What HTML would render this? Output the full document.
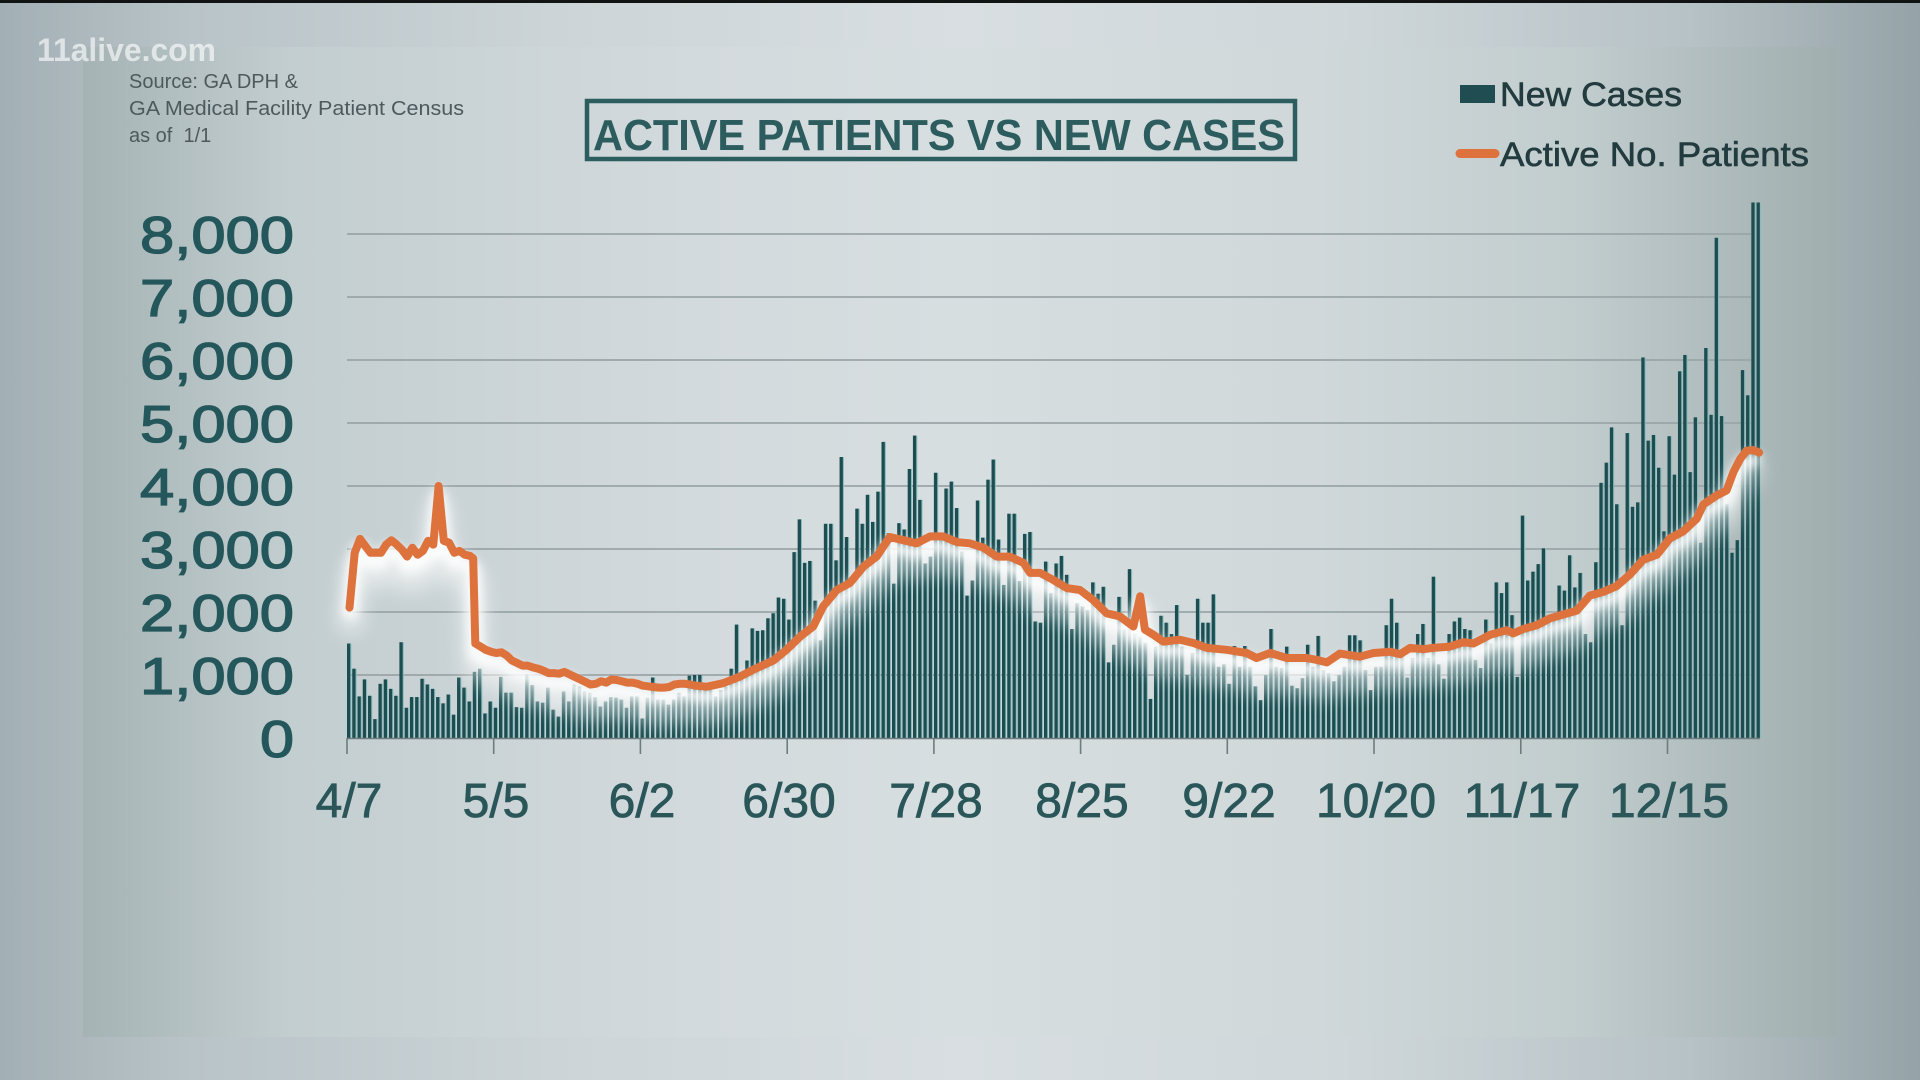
<!DOCTYPE html>
<html><head><meta charset="utf-8"><style>
html,body{margin:0;padding:0;background:#c8d0d3;}
svg{display:block}
text{font-family:"Liberation Sans",Arial,sans-serif}
</style></head><body>
<svg width="1920" height="1080" viewBox="0 0 1920 1080" xmlns="http://www.w3.org/2000/svg">
<defs>
<linearGradient id="bgo" x1="0" y1="0" x2="1" y2="0">
<stop offset="0" stop-color="#a2afb4"/><stop offset="0.1" stop-color="#b9c4c8"/><stop offset="0.3" stop-color="#cdd5d8"/><stop offset="0.5" stop-color="#d8dee1"/><stop offset="0.7" stop-color="#cfd7da"/><stop offset="0.88" stop-color="#b7c2c6"/><stop offset="1" stop-color="#95a3a8"/>
</linearGradient>
<linearGradient id="bgp" x1="0" y1="0" x2="1" y2="0">
<stop offset="0" stop-color="#a5b3b4"/><stop offset="0.12" stop-color="#c3ced0"/><stop offset="0.35" stop-color="#d3dadd"/><stop offset="0.5" stop-color="#d7dee0"/><stop offset="0.7" stop-color="#d0d8da"/><stop offset="0.85" stop-color="#c2cdce"/><stop offset="1" stop-color="#a0aeae"/>
</linearGradient>
<filter id="gb" filterUnits="userSpaceOnUse" x="250" y="100" width="1600" height="750"><feGaussianBlur stdDeviation="5"/></filter>
<filter id="gb2" filterUnits="userSpaceOnUse" x="250" y="100" width="1600" height="750"><feGaussianBlur stdDeviation="9"/></filter>
<g id="bars">
<rect x="0" width="0.63" height="1500"/><rect x="1" width="0.63" height="1100"/><rect x="2" width="0.63" height="660"/><rect x="3" width="0.63" height="930"/><rect x="4" width="0.63" height="670"/><rect x="5" width="0.63" height="300"/><rect x="6" width="0.63" height="860"/><rect x="7" width="0.63" height="930"/><rect x="8" width="0.63" height="780"/><rect x="9" width="0.63" height="670"/>
<rect x="10" width="0.63" height="1520"/><rect x="11" width="0.63" height="480"/><rect x="12" width="0.63" height="650"/><rect x="13" width="0.63" height="650"/><rect x="14" width="0.63" height="940"/><rect x="15" width="0.63" height="850"/><rect x="16" width="0.63" height="780"/><rect x="17" width="0.63" height="650"/><rect x="18" width="0.63" height="550"/><rect x="19" width="0.63" height="690"/>
<rect x="20" width="0.63" height="370"/><rect x="21" width="0.63" height="960"/><rect x="22" width="0.63" height="800"/><rect x="23" width="0.63" height="580"/><rect x="24" width="0.63" height="1050"/><rect x="25" width="0.63" height="1100"/><rect x="26" width="0.63" height="390"/><rect x="27" width="0.63" height="580"/><rect x="28" width="0.63" height="480"/><rect x="29" width="0.63" height="970"/>
<rect x="30" width="0.63" height="720"/><rect x="31" width="0.63" height="720"/><rect x="32" width="0.63" height="490"/><rect x="33" width="0.63" height="480"/><rect x="34" width="0.63" height="1010"/><rect x="35" width="0.63" height="840"/><rect x="36" width="0.63" height="580"/><rect x="37" width="0.63" height="560"/><rect x="38" width="0.63" height="800"/><rect x="39" width="0.63" height="450"/>
<rect x="40" width="0.63" height="340"/><rect x="41" width="0.63" height="740"/><rect x="42" width="0.63" height="580"/><rect x="43" width="0.63" height="850"/><rect x="44" width="0.63" height="820"/><rect x="45" width="0.63" height="740"/><rect x="46" width="0.63" height="720"/><rect x="47" width="0.63" height="650"/><rect x="48" width="0.63" height="500"/><rect x="49" width="0.63" height="580"/>
<rect x="50" width="0.63" height="650"/><rect x="51" width="0.63" height="640"/><rect x="52" width="0.63" height="610"/><rect x="53" width="0.63" height="480"/><rect x="54" width="0.63" height="660"/><rect x="55" width="0.63" height="660"/><rect x="56" width="0.63" height="310"/><rect x="57" width="0.63" height="640"/><rect x="58" width="0.63" height="960"/><rect x="59" width="0.63" height="610"/>
<rect x="60" width="0.63" height="610"/><rect x="61" width="0.63" height="530"/><rect x="62" width="0.63" height="610"/><rect x="63" width="0.63" height="720"/><rect x="64" width="0.63" height="660"/><rect x="65" width="0.63" height="990"/><rect x="66" width="0.63" height="1000"/><rect x="67" width="0.63" height="1000"/><rect x="68" width="0.63" height="815"/><rect x="69" width="0.63" height="815"/>
<rect x="70" width="0.63" height="660"/><rect x="71" width="0.63" height="760"/><rect x="72" width="0.63" height="815"/><rect x="73" width="0.63" height="1100"/><rect x="74" width="0.63" height="1800"/><rect x="75" width="0.63" height="975"/><rect x="76" width="0.63" height="1230"/><rect x="77" width="0.63" height="1740"/><rect x="78" width="0.63" height="1700"/><rect x="79" width="0.63" height="1710"/>
<rect x="80" width="0.63" height="1900"/><rect x="81" width="0.63" height="1980"/><rect x="82" width="0.63" height="2230"/><rect x="83" width="0.63" height="2210"/><rect x="84" width="0.63" height="1880"/><rect x="85" width="0.63" height="2950"/><rect x="86" width="0.63" height="3470"/><rect x="87" width="0.63" height="2780"/><rect x="88" width="0.63" height="2810"/><rect x="89" width="0.63" height="2180"/>
<rect x="90" width="0.63" height="1550"/><rect x="91" width="0.63" height="3400"/><rect x="92" width="0.63" height="3400"/><rect x="93" width="0.63" height="2820"/><rect x="94" width="0.63" height="4460"/><rect x="95" width="0.63" height="3190"/><rect x="96" width="0.63" height="2500"/><rect x="97" width="0.63" height="3640"/><rect x="98" width="0.63" height="3400"/><rect x="99" width="0.63" height="3860"/>
<rect x="100" width="0.63" height="3430"/><rect x="101" width="0.63" height="3910"/><rect x="102" width="0.63" height="4700"/><rect x="103" width="0.63" height="3250"/><rect x="104" width="0.63" height="2450"/><rect x="105" width="0.63" height="3410"/><rect x="106" width="0.63" height="3310"/><rect x="107" width="0.63" height="4270"/><rect x="108" width="0.63" height="4800"/><rect x="109" width="0.63" height="3780"/>
<rect x="110" width="0.63" height="2770"/><rect x="111" width="0.63" height="2880"/><rect x="112" width="0.63" height="4210"/><rect x="113" width="0.63" height="3260"/><rect x="114" width="0.63" height="3960"/><rect x="115" width="0.63" height="4070"/><rect x="116" width="0.63" height="3650"/><rect x="117" width="0.63" height="2960"/><rect x="118" width="0.63" height="2260"/><rect x="119" width="0.63" height="2500"/>
<rect x="120" width="0.63" height="3770"/><rect x="121" width="0.63" height="3180"/><rect x="122" width="0.63" height="4100"/><rect x="123" width="0.63" height="4420"/><rect x="124" width="0.63" height="3150"/><rect x="125" width="0.63" height="2430"/><rect x="126" width="0.63" height="3560"/><rect x="127" width="0.63" height="3560"/><rect x="128" width="0.63" height="2490"/><rect x="129" width="0.63" height="3240"/>
<rect x="130" width="0.63" height="3270"/><rect x="131" width="0.63" height="1850"/><rect x="132" width="0.63" height="1830"/><rect x="133" width="0.63" height="2800"/><rect x="134" width="0.63" height="2300"/><rect x="135" width="0.63" height="2770"/><rect x="136" width="0.63" height="2890"/><rect x="137" width="0.63" height="2590"/><rect x="138" width="0.63" height="1730"/><rect x="139" width="0.63" height="2140"/>
<rect x="140" width="0.63" height="2090"/><rect x="141" width="0.63" height="2030"/><rect x="142" width="0.63" height="2470"/><rect x="143" width="0.63" height="2290"/><rect x="144" width="0.63" height="2400"/><rect x="145" width="0.63" height="1200"/><rect x="146" width="0.63" height="1480"/><rect x="147" width="0.63" height="2240"/><rect x="148" width="0.63" height="1720"/><rect x="149" width="0.63" height="2680"/>
<rect x="150" width="0.63" height="1660"/><rect x="151" width="0.63" height="1610"/><rect x="152" width="0.63" height="1510"/><rect x="153" width="0.63" height="620"/><rect x="154" width="0.63" height="1450"/><rect x="155" width="0.63" height="1940"/><rect x="156" width="0.63" height="1830"/><rect x="157" width="0.63" height="1650"/><rect x="158" width="0.63" height="2110"/><rect x="159" width="0.63" height="1450"/>
<rect x="160" width="0.63" height="1000"/><rect x="161" width="0.63" height="1350"/><rect x="162" width="0.63" height="2210"/><rect x="163" width="0.63" height="1830"/><rect x="164" width="0.63" height="1830"/><rect x="165" width="0.63" height="2280"/><rect x="166" width="0.63" height="1130"/><rect x="167" width="0.63" height="1170"/><rect x="168" width="0.63" height="860"/><rect x="169" width="0.63" height="1460"/>
<rect x="170" width="0.63" height="1130"/><rect x="171" width="0.63" height="1460"/><rect x="172" width="0.63" height="1130"/><rect x="173" width="0.63" height="820"/><rect x="174" width="0.63" height="600"/><rect x="175" width="0.63" height="1000"/><rect x="176" width="0.63" height="1730"/><rect x="177" width="0.63" height="1130"/><rect x="178" width="0.63" height="1110"/><rect x="179" width="0.63" height="1450"/>
<rect x="180" width="0.63" height="830"/><rect x="181" width="0.63" height="790"/><rect x="182" width="0.63" height="950"/><rect x="183" width="0.63" height="1480"/><rect x="184" width="0.63" height="1130"/><rect x="185" width="0.63" height="1620"/><rect x="186" width="0.63" height="1080"/><rect x="187" width="0.63" height="1030"/><rect x="188" width="0.63" height="900"/><rect x="189" width="0.63" height="1000"/>
<rect x="190" width="0.63" height="1130"/><rect x="191" width="0.63" height="1630"/><rect x="192" width="0.63" height="1630"/><rect x="193" width="0.63" height="1550"/><rect x="194" width="0.63" height="1080"/><rect x="195" width="0.63" height="760"/><rect x="196" width="0.63" height="1130"/><rect x="197" width="0.63" height="1130"/><rect x="198" width="0.63" height="1790"/><rect x="199" width="0.63" height="2210"/>
<rect x="200" width="0.63" height="1830"/><rect x="201" width="0.63" height="1330"/><rect x="202" width="0.63" height="960"/><rect x="203" width="0.63" height="1270"/><rect x="204" width="0.63" height="1650"/><rect x="205" width="0.63" height="1810"/><rect x="206" width="0.63" height="1270"/><rect x="207" width="0.63" height="2560"/><rect x="208" width="0.63" height="1170"/><rect x="209" width="0.63" height="940"/>
<rect x="210" width="0.63" height="1650"/><rect x="211" width="0.63" height="1850"/><rect x="212" width="0.63" height="1910"/><rect x="213" width="0.63" height="1730"/><rect x="214" width="0.63" height="1710"/><rect x="215" width="0.63" height="1240"/><rect x="216" width="0.63" height="1110"/><rect x="217" width="0.63" height="1880"/><rect x="218" width="0.63" height="1500"/><rect x="219" width="0.63" height="2470"/>
<rect x="220" width="0.63" height="2300"/><rect x="221" width="0.63" height="2470"/><rect x="222" width="0.63" height="1950"/><rect x="223" width="0.63" height="970"/><rect x="224" width="0.63" height="3530"/><rect x="225" width="0.63" height="2500"/><rect x="226" width="0.63" height="2640"/><rect x="227" width="0.63" height="2760"/><rect x="228" width="0.63" height="3010"/><rect x="229" width="0.63" height="1950"/>
<rect x="230" width="0.63" height="1890"/><rect x="231" width="0.63" height="2420"/><rect x="232" width="0.63" height="2340"/><rect x="233" width="0.63" height="2900"/><rect x="234" width="0.63" height="2390"/><rect x="235" width="0.63" height="2620"/><rect x="236" width="0.63" height="1650"/><rect x="237" width="0.63" height="1520"/><rect x="238" width="0.63" height="2790"/><rect x="239" width="0.63" height="4050"/>
<rect x="240" width="0.63" height="4370"/><rect x="241" width="0.63" height="4930"/><rect x="242" width="0.63" height="3710"/><rect x="243" width="0.63" height="1790"/><rect x="244" width="0.63" height="4840"/><rect x="245" width="0.63" height="3670"/><rect x="246" width="0.63" height="3740"/><rect x="247" width="0.63" height="6040"/><rect x="248" width="0.63" height="4720"/><rect x="249" width="0.63" height="4810"/>
<rect x="250" width="0.63" height="4290"/><rect x="251" width="0.63" height="3280"/><rect x="252" width="0.63" height="4790"/><rect x="253" width="0.63" height="4180"/><rect x="254" width="0.63" height="5820"/><rect x="255" width="0.63" height="6080"/><rect x="256" width="0.63" height="4220"/><rect x="257" width="0.63" height="5090"/><rect x="258" width="0.63" height="3100"/><rect x="259" width="0.63" height="6190"/>
<rect x="260" width="0.63" height="5130"/><rect x="261" width="0.63" height="7940"/><rect x="262" width="0.63" height="5110"/><rect x="263" width="0.63" height="3710"/><rect x="264" width="0.63" height="2940"/><rect x="265" width="0.63" height="3140"/><rect x="266" width="0.63" height="5840"/><rect x="267" width="0.63" height="5440"/><rect x="268" width="0.63" height="8500"/><rect x="269" width="0.63" height="8500"/>
</g>
<path id="ln" d="M349.5,607.6 L354.7,552.8 L360,538.9 L365.2,545.9 L370.5,552.8 L375.7,552.8 L380.9,552.8 L386.2,544.6 L391.4,540.2 L396.7,544.6 L401.9,549.6 L407.1,556.6 L412.4,547.7 L417.6,554.7 L422.9,550.9 L428.1,540.8 L433.3,544.6 L438.6,486 L443.8,540.8 L449.1,542.7 L454.3,552.8 L459.5,550.9 L464.8,554.7 L470,555.9 L473.2,558.4 L475.3,643.5 L480.5,646.6 L485.7,649.8 L491,651.7 L496.2,653 L501.5,652.3 L506.7,655.5 L511.9,660.5 L517.2,663 L522.4,665.6 L527.7,665.6 L532.9,667.4 L538.1,668.7 L543.4,670.6 L548.6,673.1 L553.9,673.1 L559.1,673.7 L564.3,671.9 L569.6,674.4 L574.8,676.9 L580.1,679.4 L585.3,681.9 L590.5,684.5 L595.8,683.8 L601,681.3 L606.3,682.6 L611.5,679.4 L616.7,680 L622,681.3 L627.2,682.6 L632.5,682.6 L637.7,683.8 L642.9,685.7 L648.2,686.3 L653.4,687 L658.7,687.6 L663.9,687.6 L669.1,687 L674.4,684.5 L679.6,683.8 L684.9,683.8 L690.1,684.5 L695.3,685.7 L706.9,686.7 L723.1,683.2 L739.9,676.6 L756.7,668.1 L773.4,660.5 L786.5,649.8 L800.1,636.6 L813.2,626.5 L823.2,606.3 L836.8,590 L849.9,583 L863.5,566.6 L876.6,556.6 L889.7,537 L903.4,540.2 L916.5,543.3 L930.1,536.4 L943.2,536.4 L956.8,542.1 L969.9,543.3 L983.5,547.7 L996.6,556.6 L1009.7,556.6 L1023.4,562.9 L1030.2,572.9 L1040.1,572.9 L1053.2,579.9 L1066.9,588.1 L1080,590 L1093.1,600 L1106.7,613.3 L1119.8,616.4 L1133.4,626.5 L1140.2,596.3 L1144.9,629.6 L1153.3,634.7 L1163.3,641.6 L1180,639.7 L1193.1,642.9 L1206.8,647.9 L1226.7,649.8 L1246.6,653 L1256.5,658 L1270.2,653 L1286.9,658 L1306.9,658 L1316.8,659.9 L1326.8,662.4 L1339.9,653.6 L1359.8,656.7 L1373.4,653 L1390.2,651.7 L1400.1,654.2 L1410.1,647.9 L1423.2,649.2 L1433.1,647.9 L1449.9,646.6 L1463.5,642.2 L1473.5,643.5 L1490.3,634.7 L1506.5,630.3 L1513.3,633.4 L1523.3,629 L1536.9,625.2 L1550,618.3 L1563.1,614.5 L1576.7,610.7 L1589.8,595.6 L1603.4,591.8 L1616.5,586.2 L1630.2,574.2 L1643.3,559.7 L1656.9,554.7 L1670,538.3 L1683.1,531.4 L1696.7,518.8 L1703.5,504.3 L1716.6,495.5 L1726.6,490.4 L1733.4,472.1 L1740.2,458.9 L1746.5,450.7 L1753.3,450.1 L1759.1,452.6"/>
</defs>

<!-- background -->
<rect x="0" y="0" width="1920" height="1080" fill="url(#bgo)"/>
<rect x="83" y="47" width="1754" height="990" fill="url(#bgp)"/>
<rect x="0" y="0" width="1920" height="3" fill="#121414"/>

<!-- watermark & source -->
<text x="37" y="61" font-size="32" font-weight="bold" fill="#ffffff" fill-opacity="0.62" textLength="179" lengthAdjust="spacingAndGlyphs">11alive.com</text>
<text x="129" y="88" font-size="20" fill="#4d5a5d">Source: GA DPH &amp;</text>
<text x="129" y="115" font-size="20" fill="#4d5a5d" textLength="335" lengthAdjust="spacingAndGlyphs">GA Medical Facility Patient Census</text>
<text x="129" y="142" font-size="20" fill="#4d5a5d" xml:space="preserve">as of  1/1</text>

<!-- title -->
<rect x="587" y="101" width="708" height="58" fill="none" stroke="#2c5e60" stroke-width="4.5"/>
<text x="593" y="150" font-size="44" font-weight="bold" fill="#2c5c5e" textLength="692" lengthAdjust="spacingAndGlyphs">ACTIVE PATIENTS VS NEW CASES</text>

<!-- legend -->
<rect x="1460" y="85" width="35" height="18" fill="#1f4d51"/>
<text x="1500" y="106" font-size="34" fill="#223b3f" stroke="#223b3f" stroke-width="0.6" textLength="182" lengthAdjust="spacingAndGlyphs">New Cases</text>
<line x1="1460" y1="153.5" x2="1495" y2="153.5" stroke="#de723d" stroke-width="9" stroke-linecap="round"/>
<text x="1500" y="166" font-size="34" fill="#223b3f" stroke="#223b3f" stroke-width="0.6" textLength="309" lengthAdjust="spacingAndGlyphs">Active No. Patients</text>

<!-- gridlines -->
<g stroke="#9aa5a7" stroke-width="1.8">
<line x1="347" y1="234" x2="1751" y2="234"/>
<line x1="347" y1="297" x2="1751" y2="297"/>
<line x1="347" y1="360" x2="1751" y2="360"/>
<line x1="347" y1="423" x2="1751" y2="423"/>
<line x1="347" y1="486" x2="1751" y2="486"/>
<line x1="347" y1="549" x2="1751" y2="549"/>
<line x1="347" y1="612" x2="1751" y2="612"/>
<line x1="347" y1="675" x2="1751" y2="675"/>
</g>

<!-- y labels -->
<g font-size="52" fill="#24575b" stroke="#24575b" stroke-width="1.3" text-anchor="end">
<text x="294" y="253" textLength="154" lengthAdjust="spacingAndGlyphs">8,000</text>
<text x="294" y="316" textLength="154" lengthAdjust="spacingAndGlyphs">7,000</text>
<text x="294" y="379" textLength="154" lengthAdjust="spacingAndGlyphs">6,000</text>
<text x="294" y="442" textLength="154" lengthAdjust="spacingAndGlyphs">5,000</text>
<text x="294" y="505" textLength="154" lengthAdjust="spacingAndGlyphs">4,000</text>
<text x="294" y="568" textLength="154" lengthAdjust="spacingAndGlyphs">3,000</text>
<text x="294" y="631" textLength="154" lengthAdjust="spacingAndGlyphs">2,000</text>
<text x="294" y="694" textLength="154" lengthAdjust="spacingAndGlyphs">1,000</text>
<text x="294" y="757" textLength="34" lengthAdjust="spacingAndGlyphs">0</text>
</g>

<!-- bars -->
<g transform="translate(347,738) scale(5.24,-0.063)">
<use href="#bars" fill="#86bcbe" transform="translate(0.2,0)"/>
<use href="#bars" fill="#1d4d51"/>
</g>

<!-- glow under line -->
<g filter="url(#gb2)" opacity="0.5">
<use href="#ln" transform="translate(0,24)" fill="none" stroke="#ffffff" stroke-width="24" stroke-linejoin="round"/>
</g>
<g filter="url(#gb)" opacity="0.9">
<use href="#ln" transform="translate(0,10)" fill="none" stroke="#ffffff" stroke-width="15" stroke-linejoin="round"/>
</g>

<!-- orange line -->
<use href="#ln" fill="none" stroke="#de723d" stroke-width="8" stroke-linejoin="round" stroke-linecap="round"/>

<!-- x axis -->
<g stroke="#6f7c7e" stroke-width="1.6">
<line x1="347" y1="738.5" x2="1760" y2="738.5"/>
<line x1="347" y1="738" x2="347" y2="754"/>
<line x1="493.7" y1="738" x2="493.7" y2="754"/>
<line x1="640.4" y1="738" x2="640.4" y2="754"/>
<line x1="787.2" y1="738" x2="787.2" y2="754"/>
<line x1="933.9" y1="738" x2="933.9" y2="754"/>
<line x1="1080.6" y1="738" x2="1080.6" y2="754"/>
<line x1="1227.3" y1="738" x2="1227.3" y2="754"/>
<line x1="1374" y1="738" x2="1374" y2="754"/>
<line x1="1520.8" y1="738" x2="1520.8" y2="754"/>
<line x1="1667.5" y1="738" x2="1667.5" y2="754"/>
</g>
<g font-size="48" fill="#2a5659" stroke="#2a5659" stroke-width="0.8" text-anchor="middle">
<text x="349" y="817">4/7</text>
<text x="496" y="817">5/5</text>
<text x="642" y="817">6/2</text>
<text x="789" y="817">6/30</text>
<text x="936" y="817">7/28</text>
<text x="1082" y="817">8/25</text>
<text x="1229" y="817">9/22</text>
<text x="1376" y="817">10/20</text>
<text x="1522" y="817">11/17</text>
<text x="1669" y="817">12/15</text>
</g>
</svg>
</body></html>
